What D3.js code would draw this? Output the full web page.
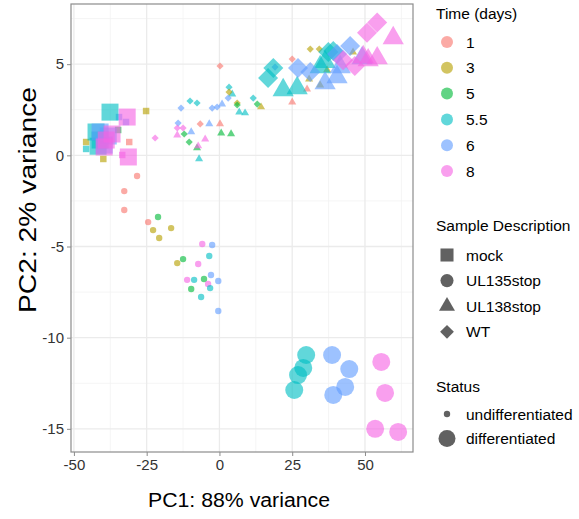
<!DOCTYPE html>
<html>
<head>
<meta charset="utf-8">
<script src="https://cdn.jsdelivr.net/npm/d3@7"></script>
<style>
  body { margin: 0; background: #fff; }
  text { font-family: "Liberation Sans", Arial, sans-serif; }
</style>
</head>
<body>
<script>
// legend levels
var timeLevels = ["1", "3", "5", "5.5", "6", "8"];
var timeColors = ["#F8766D", "#B79F00", "#00BA38", "#00BFC4", "#619CFF", "#F564E3"];
var sampleLevels = ["mock", "UL135stop", "UL138stop", "WT"];
var statusLevels = ["undifferentiated", "differentiated"];
var xTicks = [-50, -25, 0, 25, 50];
var yTicks = [-15, -10, -5, 0, 5];

// points as [PC1, PC2, time]
var mockUndiff = [
  [-25.2, 2.43, "3"], [-45.8, 0.73, "3"], [-45.8, 0.35, "5.5"], [-39.9, -0.20, "3"],
  [-31.0, 0.73, "1"], [-34.5, 2.10, "6"], [-32.1, 1.83, "6"], [-33.4, 0.02, "8"],
  [-34.8, 1.39, "5"]
];
var mockDiff = [
  [-37.6, 2.37, "5.5"], [-31.7, 2.10, "8"], [-31.3, -0.09, "8"],
  [-42.4, 1.28, "5.5"], [-41.0, 0.84, "5.5"], [-41.7, 0.50, "5.5"],
  [-41.0, 1.28, "6"], [-38.2, 1.06, "6"], [-39.6, 0.56, "6"],
  [-38.9, 0.84, "8"], [-36.9, 1.17, "8"], [-39.6, 0.46, "8"]
];
var ul135Undiff = [
  [-28.3, -1.13, "1"], [-32.7, -1.96, "1"], [-32.7, -3.00, "1"], [-24.5, -3.66, "1"],
  [-21.1, -3.38, "5"], [-22.8, -4.10, "3"], [-20.7, -4.53, "3"], [-16.6, -3.99, "3"],
  [-5.9, -4.86, "8"], [-2.5, -4.92, "6"], [-3.5, -5.52, "5.5"], [-12.5, -5.69, "5"],
  [-14.5, -5.91, "3"], [-7.3, -5.96, "8"], [-2.9, -6.56, "6"], [-11.1, -6.83, "8"],
  [-8.7, -6.83, "5.5"], [-5.3, -6.78, "5"], [-3.9, -7.05, "8"], [-0.4, -6.89, "6"],
  [-3.2, -7.28, "5.5"], [-9.7, -7.33, "5"], [-6.3, -7.77, "5.5"], [-0.4, -8.54, "6"]
];
var ul135Diff = [
  [29.8, -10.95, "5.5"], [28.8, -11.66, "5.5"], [27.0, -12.05, "5.5"], [25.7, -12.87, "5.5"],
  [38.7, -10.95, "6"], [44.6, -11.72, "6"], [43.2, -12.70, "6"], [39.1, -13.14, "6"],
  [55.6, -11.33, "8"], [56.9, -13.03, "8"], [53.5, -15.0, "8"], [61.4, -15.17, "8"]
];
var ul138Undiff = [
  [4.4, 3.36, "5.5"], [6.8, 2.37, "5.5"], [8.8, 2.32, "5.5"], [0.9, 2.81, "6"],
  [-14.5, 1.11, "8"], [-9.7, 1.28, "6"], [-3.5, 1.72, "6"], [0.2, 1.72, "1"],
  [0.6, 1.22, "5"], [4.0, 1.17, "5"], [-4.9, 0.89, "8"], [-7.7, 0.40, "5"],
  [-7.3, 0.51, "8"], [-7.0, -0.20, "5.5"], [14.3, 2.65, "3"], [25.0, 2.92, "1"],
  [30.1, 3.63, "1"], [30.8, 4.18, "3"], [34.6, 3.85, "3"], [37.0, 4.68, "3"],
  [45.9, 5.66, "3"]
];
var ul138Diff = [
  [21.9, 3.58, "5.5"], [26.7, 3.69, "5.5"], [34.6, 4.84, "5.5"], [36.3, 5.12, "5.5"],
  [36.3, 3.96, "6"], [40.4, 4.29, "6"], [41.5, 4.84, "6"], [49.0, 5.33, "6"],
  [49.4, 5.39, "8"], [54.2, 5.33, "8"], [59.7, 6.43, "8"], [51.1, 5.22, "8"]
];
var wtUndiff = [
  [0.2, 4.90, "1"], [3.3, 3.74, "5.5"], [3.3, 3.47, "3"], [3.0, 3.14, "6"],
  [6.1, 2.87, "3"], [6.1, 2.76, "5"], [-13.2, 2.59, "6"], [-10.1, 2.98, "5.5"],
  [-7.7, 2.87, "5.5"], [-2.5, 2.59, "6"], [-0.8, 2.65, "6"], [-14.2, 1.77, "6"],
  [-14.5, 1.50, "8"], [-12.5, 1.50, "8"], [-6.6, 1.72, "1"], [-12.1, 1.17, "5"],
  [-10.4, 0.73, "5"], [-22.1, 0.95, "8"], [31.2, 5.83, "3"], [34.3, 5.83, "3"],
  [25.0, 5.28, "1"], [19.1, 4.84, "6"], [11.6, 3.14, "5.5"], [13.0, 2.81, "5"]
];
var wtDiff = [
  [18.5, 4.79, "5.5"], [16.7, 4.24, "5.5"], [37.4, 5.67, "5.5"], [39.1, 5.72, "5.5"],
  [27.0, 4.79, "6"], [31.2, 4.57, "6"], [40.4, 5.56, "6"], [44.9, 6.0, "6"],
  [42.5, 5.22, "8"], [50.7, 6.73, "8"], [54.2, 7.28, "8"], [46.5, 4.9, "8"]
];

var width = 579, height = 519;
var panel = { left: 71, right: 413, top: 4, bottom: 452 };
var alpha = 0.62;
var font = "Liberation Sans, Arial, sans-serif";

var svg = d3.select("body").append("svg")
  .attr("width", width)
  .attr("height", height);

var x = d3.scaleLinear([-51, 66.5], [panel.left, panel.right]);
var y = d3.scaleLinear([-16.27, 8.3], [panel.bottom, panel.top]);
var color = d3.scaleOrdinal(timeLevels, timeColors);

// grid
var minorX = [-37.5, -12.5, 12.5, 37.5, 62.5];
var minorY = [-12.5, -7.5, -2.5, 2.5, 7.5];
var grid = svg.append("g");
grid.selectAll(".mx").data(minorX).join("line")
  .attr("x1", d => x(d)).attr("x2", d => x(d))
  .attr("y1", panel.top).attr("y2", panel.bottom)
  .attr("stroke", "#f2f2f2").attr("stroke-width", 0.8);
grid.selectAll(".my").data(minorY).join("line")
  .attr("y1", d => y(d)).attr("y2", d => y(d))
  .attr("x1", panel.left).attr("x2", panel.right)
  .attr("stroke", "#f2f2f2").attr("stroke-width", 0.8);
grid.selectAll(".gx").data(xTicks).join("line")
  .attr("x1", d => x(d)).attr("x2", d => x(d))
  .attr("y1", panel.top).attr("y2", panel.bottom)
  .attr("stroke", "#ebebeb").attr("stroke-width", 1.3);
grid.selectAll(".gy").data(yTicks).join("line")
  .attr("y1", d => y(d)).attr("y2", d => y(d))
  .attr("x1", panel.left).attr("x2", panel.right)
  .attr("stroke", "#ebebeb").attr("stroke-width", 1.3);

// shape generators: size = area in px^2
function shapePath(shape, big) {
  if (shape === "mock") return d3.symbol(d3.symbolSquare, big ? 289 : 42)();
  if (shape === "UL135stop") return d3.symbol(d3.symbolCircle, big ? 254 : 32)();
  if (shape === "UL138stop") return d3.symbol(d3.symbolTriangle, big ? 195 : 28)();
  return d3.symbol(d3.symbolSquare, big ? 200 : 26)();
}

var groups = [
  [mockUndiff, "mock", false], [mockDiff, "mock", true],
  [ul135Undiff, "UL135stop", false], [ul135Diff, "UL135stop", true],
  [ul138Undiff, "UL138stop", false], [ul138Diff, "UL138stop", true],
  [wtUndiff, "WT", false], [wtDiff, "WT", true]
];

var pts = svg.append("g");
groups.forEach(g => {
  var rot = g[1] === "WT" ? " rotate(45)" : "";
  pts.append("g").selectAll("path")
    .data(g[0])
    .join("path")
      .attr("d", shapePath(g[1], g[2]))
      .attr("transform", d => `translate(${x(d[0])},${y(d[1])})${rot}`)
      .attr("fill", d => color(d[2]))
      .attr("fill-opacity", alpha);
});

// panel border
svg.append("rect")
  .attr("x", panel.left).attr("y", panel.top)
  .attr("width", panel.right - panel.left).attr("height", panel.bottom - panel.top)
  .attr("fill", "none").attr("stroke", "#8c8c8c").attr("stroke-width", 1.2);

// axes (ggplot uses a plain hyphen for negatives)
var xAxis = d3.axisBottom(x).tickValues(xTicks).tickFormat(d => String(d))
  .tickSize(4).tickPadding(3).tickSizeOuter(0);
var yAxis = d3.axisLeft(y).tickValues(yTicks).tickFormat(d => String(d))
  .tickSize(4).tickPadding(3).tickSizeOuter(0);

svg.append("g")
  .attr("transform", `translate(0,${panel.bottom})`)
  .call(xAxis)
  .call(g => g.select(".domain").remove())
  .call(g => g.selectAll("line").attr("stroke", "#8c8c8c"))
  .call(g => g.selectAll("text").attr("fill", "#333").style("font-size", "15px")
    .style("font-family", font));

svg.append("g")
  .attr("transform", `translate(${panel.left},0)`)
  .call(yAxis)
  .call(g => g.select(".domain").remove())
  .call(g => g.selectAll("line").attr("stroke", "#8c8c8c"))
  .call(g => g.selectAll("text").attr("fill", "#333").style("font-size", "15px")
    .style("font-family", font));

svg.append("text")
  .attr("x", 239).attr("y", 507)
  .attr("text-anchor", "middle")
  .attr("textLength", 182).attr("lengthAdjust", "spacingAndGlyphs")
  .style("font-size", "20px")
  .text("PC1: 88% variance");

svg.append("text")
  .attr("transform", "translate(36,200) rotate(-90)")
  .attr("text-anchor", "middle")
  .attr("textLength", 226).attr("lengthAdjust", "spacingAndGlyphs")
  .style("font-size", "23px")
  .text("PC2: 2% variance");

// legends
var lg = svg.append("g");
var keyX = 447, labX = 466, titleX = 436, fs = "15.5px";

lg.append("text").attr("x", titleX).attr("y", 19).style("font-size", fs).text("Time (days)");
timeLevels.forEach((t, i) => {
  var cy = 42 + i * 25.8;
  lg.append("circle").attr("cx", keyX).attr("cy", cy).attr("r", 6)
    .attr("fill", color(t)).attr("fill-opacity", alpha);
  lg.append("text").attr("x", labX).attr("y", cy + 5.5).style("font-size", fs).text(t);
});

lg.append("text").attr("x", titleX).attr("y", 231).style("font-size", fs).text("Sample Description");
var legendShapes = {
  mock: d3.symbol(d3.symbolSquare, 170)(),
  UL135stop: d3.symbol(d3.symbolCircle, 135)(),
  UL138stop: d3.symbol(d3.symbolTriangle, 110)(),
  WT: d3.symbol(d3.symbolSquare, 95)()
};
sampleLevels.forEach((s, i) => {
  var cy = 255 + i * 25.6;
  lg.append("path").attr("d", legendShapes[s])
    .attr("transform", `translate(${keyX},${cy})${s === "WT" ? " rotate(45)" : ""}`)
    .attr("fill", "#000").attr("fill-opacity", alpha);
  lg.append("text").attr("x", labX).attr("y", cy + 5.5).style("font-size", fs).text(s);
});

lg.append("text").attr("x", titleX).attr("y", 392).style("font-size", fs).text("Status");
statusLevels.forEach((s, i) => {
  var cy = 414 + i * 24.5;
  lg.append("circle").attr("cx", keyX).attr("cy", cy).attr("r", i === 0 ? 3.2 : 8.5)
    .attr("fill", "#000").attr("fill-opacity", alpha);
  lg.append("text").attr("x", labX).attr("y", cy + 5.5).style("font-size", fs).text(s);
});
</script>
</body>
</html>
